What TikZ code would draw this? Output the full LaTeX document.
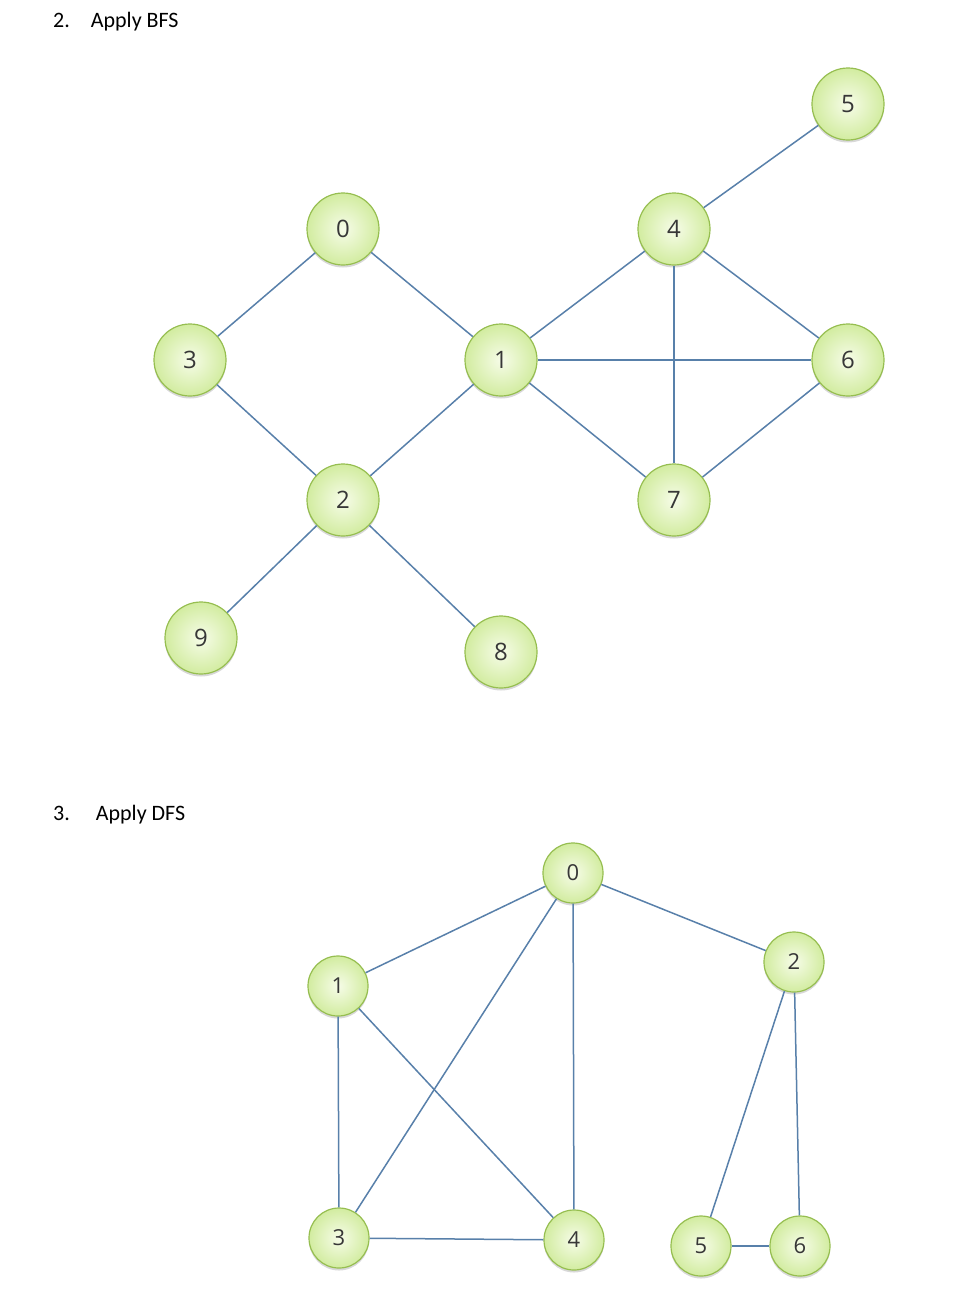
\documentclass[tikz,border=0pt]{standalone}
\usepackage{fontspec}
\setmainfont{Carlito}
\newfontfamily\numfont{Open Sans}
\usetikzlibrary{shadows}
\definecolor{edgecol}{RGB}{88,128,170}
\definecolor{nodeborder}{RGB}{150,190,80}
\definecolor{nodein}{RGB}{246,252,232}
\definecolor{nodeout}{RGB}{210,236,160}
\definecolor{numcol}{RGB}{55,55,55}
\tikzset{
  vbig/.style={circle, minimum size=72pt, inner sep=0pt, draw=nodeborder, line width=1.2pt,
    inner color=nodein, outer color=nodeout,
    drop shadow={shadow xshift=0pt, shadow yshift=-2.5pt, opacity=0.25, fill=black!60},
    font=\numfont\fontsize{24}{24}\selectfont, text=numcol},
  vsmall/.style={vbig, minimum size=60pt, font=\numfont\fontsize{22}{22}\selectfont},
  edge/.style={draw=edgecol, line width=1.5pt},
  hdr/.style={anchor=base west, font=\fontsize{22}{26}\selectfont, inner sep=0pt}
}
\begin{document}
\begin{tikzpicture}[x=1pt,y=-1pt]
\useasboundingbox[fill=white] (0,0) rectangle (955,1315);
\node[hdr] (h2) at (53,27) {2.\hspace{21pt}Apply BFS};
\node[hdr] (h3) at (53,820) {3.\hspace{26pt}Apply DFS};
% BFS graph
\node[vbig] (b0) at (343,229) {0};
\node[vbig] (b3) at (190,360) {3};
\node[vbig] (b1) at (501,360) {1};
\node[vbig] (b2) at (343,500) {2};
\node[vbig] (b9) at (201,638) {9};
\node[vbig] (b8) at (501,652) {8};
\node[vbig] (b4) at (674,229) {4};
\node[vbig] (b5) at (848,104) {5};
\node[vbig] (b6) at (848,360) {6};
\node[vbig] (b7) at (674,500) {7};
\draw[edge] (b0) -- (b3);
\draw[edge] (b0) -- (b1);
\draw[edge] (b3) -- (b2);
\draw[edge] (b1) -- (b2);
\draw[edge] (b2) -- (b9);
\draw[edge] (b2) -- (b8);
\draw[edge] (b1) -- (b4);
\draw[edge] (b1) -- (b6);
\draw[edge] (b1) -- (b7);
\draw[edge] (b4) -- (b5);
\draw[edge] (b4) -- (b6);
\draw[edge] (b4) -- (b7);
\draw[edge] (b6) -- (b7);
% DFS graph
\node[vsmall] (d0) at (573,873) {0};
\node[vsmall] (d1) at (338,986) {1};
\node[vsmall] (d2) at (794,962) {2};
\node[vsmall] (d3) at (339,1238) {3};
\node[vsmall] (d4) at (574,1240) {4};
\node[vsmall] (d5) at (701,1246) {5};
\node[vsmall] (d6) at (800,1246) {6};
\draw[edge] (d0) -- (d1);
\draw[edge] (d0) -- (d3);
\draw[edge] (d0) -- (d4);
\draw[edge] (d0) -- (d2);
\draw[edge] (d1) -- (d3);
\draw[edge] (d1) -- (d4);
\draw[edge] (d3) -- (d4);
\draw[edge] (d2) -- (d5);
\draw[edge] (d2) -- (d6);
\draw[edge] (d5) -- (d6);
\end{tikzpicture}
\end{document}
